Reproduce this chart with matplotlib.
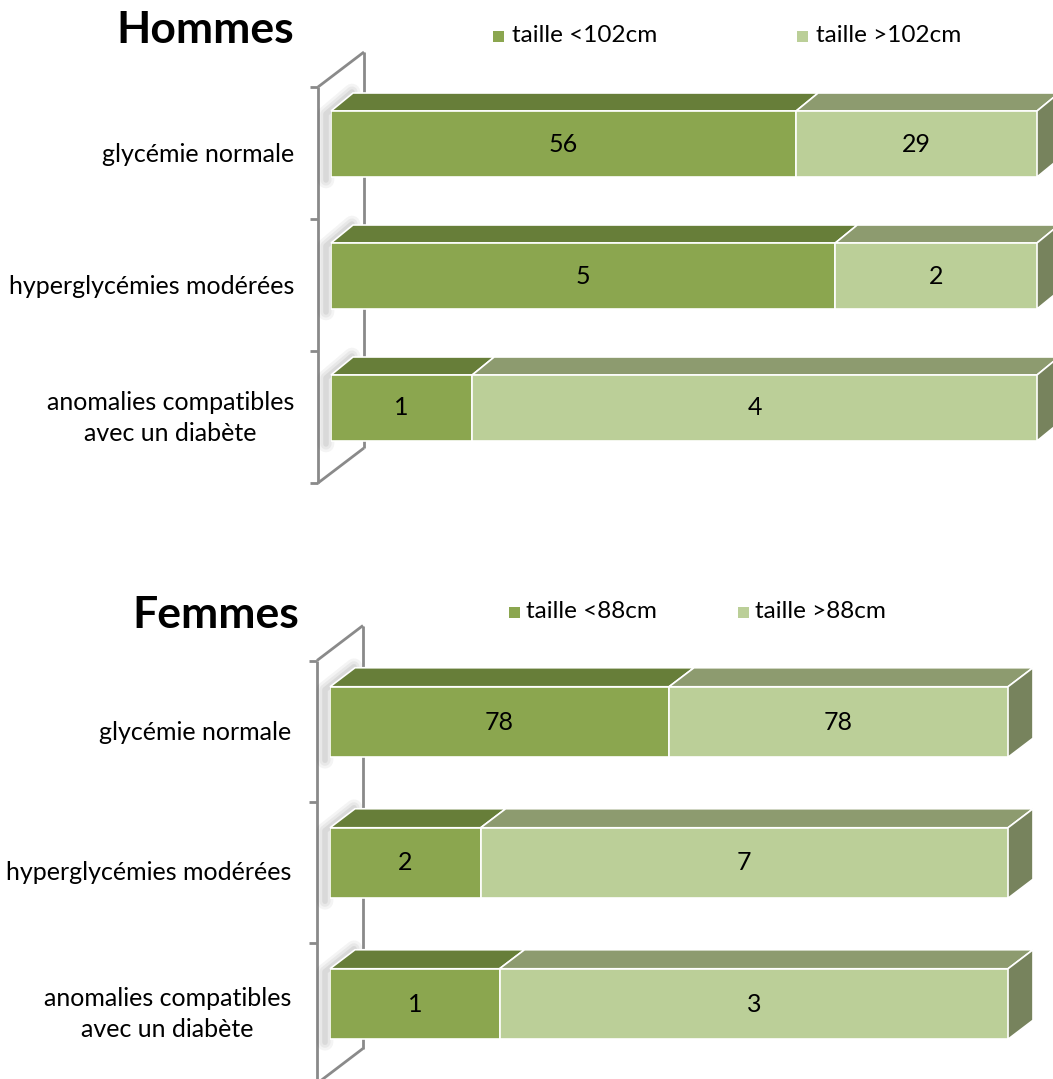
import numpy as np
import matplotlib
matplotlib.use('Agg')
import matplotlib.pyplot as plt
from matplotlib.patches import Polygon, Rectangle

plt.rcParams['font.family'] = ['Lato', 'DejaVu Sans']

# donnees
categories = ['glycémie normale', 'hyperglycémies modérées',
              'anomalies compatibles\navec un diabète']
hommes_petit = [56, 5, 1]
hommes_grand = [29, 2, 4]
femmes_petit = [78, 2, 1]
femmes_grand = [78, 7, 3]
hommes_legende = ['taille <102cm', 'taille >102cm']
femmes_legende = ['taille <88cm', 'taille >88cm']

W, H = 1053, 1079
fonce = '#8BA64F'
fonce_dessus = '#677E39'
clair = '#BBCF98'
clair_dessus = '#8D9B6F'
cote = '#77835D'
gris = '#8A8A8A'


def fx(x):
    return x / W


def fy(y):
    return 1 - y / H


fig = plt.figure(figsize=(W / 100, H / 100), dpi=100)


def panneau(gauche, droite, haut, bas, petit, grand, prof, label_x,
            titre, titre_xy, legende, leg_pos, leg_y):
    ax = fig.add_axes([fx(gauche), fy(bas), fx(droite - gauche), (bas - haut) / H])
    n = len(categories)
    ax.set_xlim(0, 1)
    ax.set_ylim(n - 0.5, -0.5)
    ax.axis('off')

    px = 1 / (droite - gauche)
    py = n / (bas - haut)
    ddx = prof[0] * px
    ddy = prof[1] * py
    h = 0.5

    petit = np.array(petit, dtype=float)
    grand = np.array(grand, dtype=float)
    tot = petit + grand
    p1 = petit / tot
    p2 = grand / tot
    y = np.arange(n)

    # mur gauche
    fdx, fdy = -13 * px, 9 * py
    bdx, bdy = 33 * px, -26 * py
    y0, y1 = -0.5, n - 0.5
    kw = dict(color=gris, lw=2, clip_on=False, zorder=1, solid_capstyle='butt')
    ax.plot([fdx, fdx], [y0 + fdy, y1 + fdy], **kw)
    ax.plot([bdx, bdx], [y0 + bdy, y1 + bdy], **kw)
    ax.plot([fdx, bdx], [y0 + fdy, y0 + bdy], **kw)
    ax.plot([fdx, bdx], [y1 + fdy, y1 + bdy], **kw)
    for k in range(n + 1):
        ax.plot([fdx - 8 * px, fdx], [k - 0.5 + fdy] * 2, **kw)

    # ombres sur le mur
    for i in range(n):
        yt = i - h / 2
        sx, sy = -5 * px, 3 * py
        for lw, a in [(12, 0.05), (8, 0.06), (4, 0.08)]:
            ax.add_patch(Polygon([(sx, yt + h + sy), (sx, yt + sy),
                                  (ddx + 4 * px + sx, yt - ddy - 4 * py + sy)],
                                 closed=False, fill=False, edgecolor='#303030',
                                 lw=lw, alpha=a, clip_on=False, zorder=1.5,
                                 joinstyle='round', capstyle='round'))

    # faces avant
    ax.barh(y, p1, height=h, color=fonce, edgecolor='white', lw=1.2, zorder=3)
    ax.barh(y, p2, left=p1, height=h, color=clair, edgecolor='white', lw=1.2, zorder=3)

    # dessus et cote
    for i in range(n):
        yt = i - h / 2
        for l, r, c in [(0, p1[i], fonce_dessus), (p1[i], 1, clair_dessus)]:
            ax.add_patch(Polygon([(l, yt), (r, yt), (r + ddx, yt - ddy), (l + ddx, yt - ddy)],
                                 closed=True, facecolor=c, edgecolor='white', lw=1.2,
                                 clip_on=False, zorder=2))
        ax.add_patch(Polygon([(1, yt), (1 + ddx, yt - ddy), (1 + ddx, yt + h - ddy), (1, yt + h)],
                             closed=True, facecolor=cote, edgecolor='white', lw=1.2,
                             clip_on=False, zorder=2))
        ax.text(p1[i] / 2, i, '%d' % petit[i], ha='center', va='center', fontsize=18, zorder=5)
        ax.text(p1[i] + p2[i] / 2, i, '%d' % grand[i], ha='center', va='center', fontsize=18, zorder=5)
        ax.annotate(categories[i], xy=(0, i), xycoords=ax.get_yaxis_transform(),
                    xytext=(label_x - gauche, -10), textcoords='offset pixels',
                    ha='right', va='center', multialignment='center', fontsize=18,
                    linespacing=1.38, annotation_clip=False)

    fig.text(fx(titre_xy[0]), fy(titre_xy[1]), titre, fontsize=32, fontweight='bold',
             ha='center', va='center')
    for (sx, tx), lab, c in zip(leg_pos, legende, [fonce, clair]):
        fig.patches.append(Rectangle((fx(sx), fy(leg_y + 6)), 11 / W, 11 / H,
                                     transform=fig.transFigure, facecolor=c, edgecolor='none'))
        fig.text(fx(tx), fy(leg_y), lab, fontsize=17.5, ha='left', va='center')
    return ax


panneau(331, 1037, 78, 474, hommes_petit, hommes_grand, (22, 18), 294,
        'Hommes', (205, 30), hommes_legende, [(493, 512), (797, 816)], 36)
panneau(330, 1008, 651.5, 1074.5, femmes_petit, femmes_grand, (25, 19), 291,
        'Femmes', (216, 615), femmes_legende, [(509, 526), (738, 755)], 612)

fig.savefig('out.png', dpi=100)
